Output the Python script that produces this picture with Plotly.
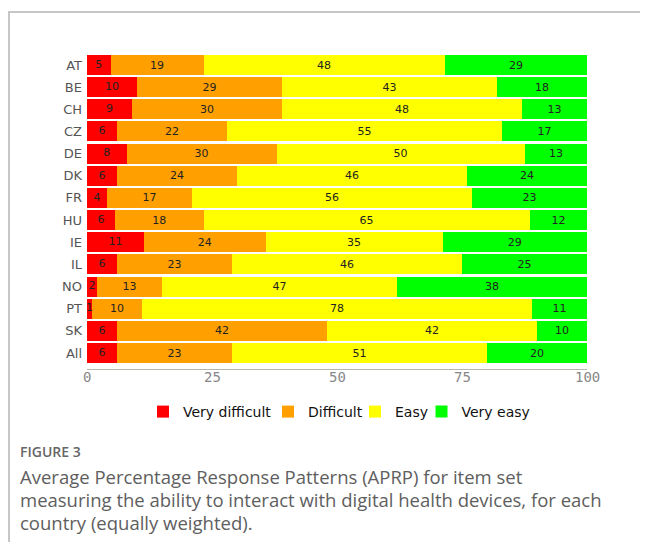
import plotly.graph_objects as go

countries = ["AT", "BE", "CH", "CZ", "DE", "DK", "FR", "HU", "IE", "IL", "NO", "PT", "SK", "All"]
# values (percent); labels are the rounded values
very_difficult = [4.7, 10, 9, 6, 7.9, 6, 4, 5.6, 11.4, 6, 2, 1, 6, 6]
difficult = [18.6, 29, 30, 22, 30.0, 24, 17, 17.7, 24.3, 23, 13, 10, 42, 23]
easy = [48.2, 43, 48, 55, 49.6, 46, 56, 65.2, 35.4, 46, 47, 78, 42, 51]
very_easy = [28.6, 18, 13, 17, 12.6, 24, 23, 11.6, 28.9, 25, 38, 11, 10, 20]

series_names = ["Very difficult", "Difficult", "Easy", "Very easy"]
series_values = [very_difficult, difficult, easy, very_easy]
series_colors = ["#FF0000", "#FFA000", "#FFFF00", "#00FF00"]
x_ticks = [0, 25, 50, 75, 100]

# page is rendered with an 8px body margin; work in page coordinates
OFF = 8
W, H = 632, 534
L, R, T, B = 79, 53, 41, 173
pw, ph = W - L - R, H - T - B


def px(x):
    return (x - OFF - L) / pw


def py(y):
    return (H - B - (y - OFF)) / ph


label_font = dict(family="DejaVu Sans", size=11, color="#222")
legend_names = ["legend", "legend2", "legend3", "legend4"]
legend_x = [143, 268, 355, 421.5]

fig = go.Figure()
for i, (name, vals, col) in enumerate(zip(series_names, series_values, series_colors)):
    fig.add_trace(go.Bar(
        y=countries, x=vals, name=name, orientation="h",
        marker=dict(color=col, line=dict(width=0)),
        text=None if i == 0 else [f"{v:.0f}" for v in vals],
        textposition="inside", insidetextanchor="middle",
        textfont=label_font, legend=legend_names[i],
    ))

# labels of the first (narrow) segment drawn on top so they may overflow the bar
fig.add_trace(go.Scatter(
    y=countries, x=[v / 2 for v in very_difficult], mode="text",
    text=[f"{v:.0f}" for v in very_difficult], textposition="middle center",
    textfont=label_font, showlegend=False, hoverinfo="skip",
))

annotations = [
    dict(text=str(t), x=t, xref="x", y=py(377), yref="paper", xanchor="center", yanchor="middle",
         showarrow=False, font=dict(family="DejaVu Sans Mono", size=14, color="#888"))
    for t in x_ticks
]
cap_x = 18
cap_font = dict(family="Open Sans", size=18.5, color="#5e5e5e")
annotations += [
    dict(text="FIGURE 3", xref="paper", yref="paper", x=px(cap_x), y=py(451), xanchor="left",
         yanchor="middle", showarrow=False,
         font=dict(family="Open Sans", size=14, color="#666", weight=600)),
    dict(text="Average Percentage Response Patterns (APRP) for item set", xref="paper", yref="paper",
         x=px(cap_x), y=py(476), xanchor="left", yanchor="middle", showarrow=False, font=cap_font),
    dict(text="measuring the ability to interact with digital health devices, for each", xref="paper",
         yref="paper", x=px(cap_x), y=py(499), xanchor="left", yanchor="middle", showarrow=False,
         font=cap_font),
    dict(text="country (equally weighted).", xref="paper", yref="paper",
         x=px(cap_x), y=py(522), xanchor="left", yanchor="middle", showarrow=False, font=cap_font),
]

legend_style = dict(orientation="h", xanchor="left", y=py(412), yanchor="middle",
                    font=dict(family="DejaVu Sans", size=14, color="#111"),
                    itemwidth=30, bgcolor="rgba(0,0,0,0)", borderwidth=0)

fig.update_layout(
    width=W, height=H,
    margin=dict(l=L, r=R, t=T, b=B, pad=0),
    barmode="stack", bargap=0.1,
    plot_bgcolor="white", paper_bgcolor="white",
    uniformtext=dict(minsize=11, mode="show"),
    showlegend=True,
    legend=dict(x=px(legend_x[0]), **legend_style),
    legend2=dict(x=px(legend_x[1]), **legend_style),
    legend3=dict(x=px(legend_x[2]), **legend_style),
    legend4=dict(x=px(legend_x[3]), **legend_style),
    xaxis=dict(range=[0, 100], tickvals=x_ticks, showticklabels=False,
               showgrid=False, zeroline=False, showline=True, linecolor="#b8b8a8", linewidth=1,
               ticks=""),
    yaxis=dict(autorange="reversed", showgrid=False, zeroline=False, ticks="",
               ticklabelstandoff=4,
               tickfont=dict(family="DejaVu Sans", size=13, color="#555")),
    shapes=[
        dict(type="line", xref="paper", yref="paper", x0=px(8), x1=px(640), y0=py(12), y1=py(12),
             line=dict(color="#c6c6c6", width=2)),
        dict(type="line", xref="paper", yref="paper", x0=px(9), x1=px(9), y0=py(11), y1=py(600),
             line=dict(color="#c6c6c6", width=2)),
    ],
    annotations=annotations,
)

fig.write_html("out.html")
